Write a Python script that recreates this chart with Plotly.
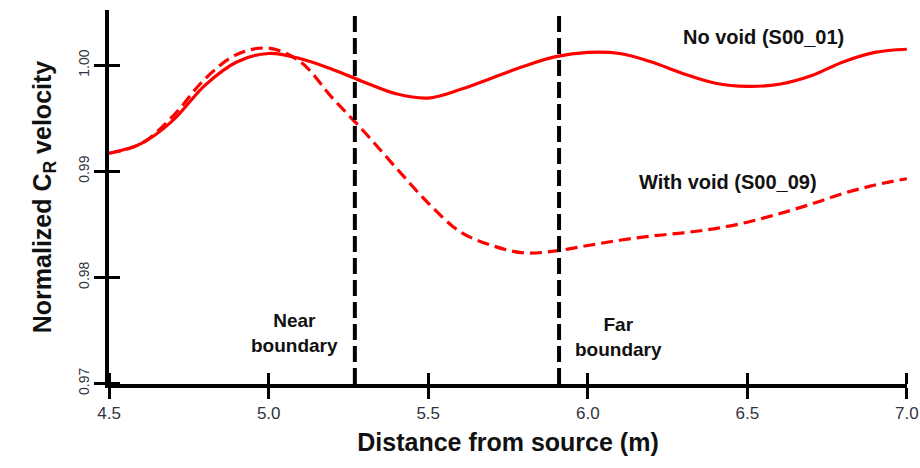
import plotly.graph_objects as go

# ---- data ----
distance = [4.5, 4.6, 4.7, 4.8, 4.9, 5.0, 5.1, 5.2, 5.3, 5.4, 5.5, 5.6, 5.7,
            5.8, 5.9, 6.0, 6.1, 6.2, 6.3, 6.4, 6.5, 6.6, 6.7, 6.8, 6.9, 7.0]
no_void = [0.9917, 0.9926, 0.9948, 0.9981, 1.0003, 1.0011, 1.0006, 0.9996,
           0.9984, 0.9973, 0.9969, 0.9977, 0.9988, 0.9999, 1.0008, 1.0012,
           1.0011, 1.0003, 0.9992, 0.9983, 0.9980, 0.9982, 0.9990, 1.0003,
           1.0012, 1.0015]
with_void = [0.9917, 0.9926, 0.9952, 0.9987, 1.0010, 1.0016, 1.0003, 0.9969,
             0.9937, 0.9903, 0.9870, 0.9843, 0.9830, 0.9823, 0.9825, 0.9830,
             0.9835, 0.9839, 0.9842, 0.9846, 0.9852, 0.9860, 0.9869, 0.9879,
             0.9887, 0.9893]
boundaries = [5.27, 5.91]
x_ticks = [4.5, 5.0, 5.5, 6.0, 6.5, 7.0]
x_tick_labels = ["4.5", "5.0", "5.5", "6.0", "6.5", "7.0"]
y_ticks = [0.97, 0.98, 0.99, 1.00]
y_tick_labels = ["0.97", "0.98", "0.99", "1.00"]
x_range = [4.4995, 7.0005]
y_range = [0.96995, 1.0052]

RED = "#ff0000"
BOLD = "Liberation Sans"
NARROW = "Liberation Sans Narrow, Liberation Sans, Arial"


def inner_ticks(vals):
    # inward half of the crossing ticks (tiny offset so plotly keeps them)
    return dict(tickmode="array", tickvals=[v + 1e-9 for v in vals],
                ticks="inside", ticklen=11, tickwidth=3, tickcolor="black",
                showgrid=False)


fig = go.Figure()

fig.add_trace(go.Scatter(x=distance, y=no_void, mode="lines", line_shape="spline",
                         line=dict(color=RED, width=3.2), name="No void (S00_01)"))
fig.add_trace(go.Scatter(x=distance, y=with_void, mode="lines", line_shape="spline",
                         line=dict(color=RED, width=3.2, dash="12px,6px"),
                         name="With void (S00_09)"))

for b in boundaries:
    fig.add_shape(type="line", x0=b, x1=b, y0=0, y1=1, xref="x", yref="paper",
                  line=dict(color="black", width=4, dash="16px,6px"))

axis_common = dict(showgrid=False, zeroline=False, showline=True,
                   linecolor="black", linewidth=3.5, tickcolor="black",
                   tickwidth=3, ticklen=11, ticks="outside",
                   ticklabeloverflow="allow", automargin=False)

fig.update_layout(
    width=920, height=468,
    margin=dict(l=109, r=13, t=10, b=84),
    paper_bgcolor="white", plot_bgcolor="white",
    showlegend=False,
    xaxis=dict(range=x_range, tickmode="array", tickvals=x_ticks,
               ticktext=x_tick_labels,
               tickfont=dict(family=NARROW, size=17, color="#333340"),
               title=dict(text="<b>Distance from source (m)</b>",
                          font=dict(family=BOLD, size=25, color="#111111"),
                          standoff=12),
               minor=inner_ticks(x_ticks),
               **axis_common),
    yaxis=dict(range=y_range, tickmode="array", tickvals=y_ticks,
               ticktext=y_tick_labels, tickangle=-90,
               tickfont=dict(family=NARROW, size=14, color="#333340"),
               title=dict(text="<b>Normalized C<sub>R</sub> velocity</b>",
                          font=dict(family=BOLD, size=25, color="#111111"),
                          standoff=18),
               minor=inner_ticks(y_ticks),
               **axis_common),
)

ann_font = dict(family=BOLD, size=20, color="#111111")
fig.add_annotation(x=6.552, y=1.00264, text="<b>No void (S00_01)</b>",
                   showarrow=False, font=ann_font)
fig.add_annotation(x=6.44, y=0.9890, text="<b>With void (S00_09)</b>",
                   showarrow=False, font=ann_font)
fig.add_annotation(x=5.082, y=0.9748, text="<b>Near<br>boundary</b>",
                   showarrow=False, font=dict(family=BOLD, size=19, color="#111111"))
fig.add_annotation(x=6.097, y=0.9744, text="<b>Far<br>boundary</b>",
                   showarrow=False, font=dict(family=BOLD, size=19, color="#111111"))

fig.write_html("out.html")
